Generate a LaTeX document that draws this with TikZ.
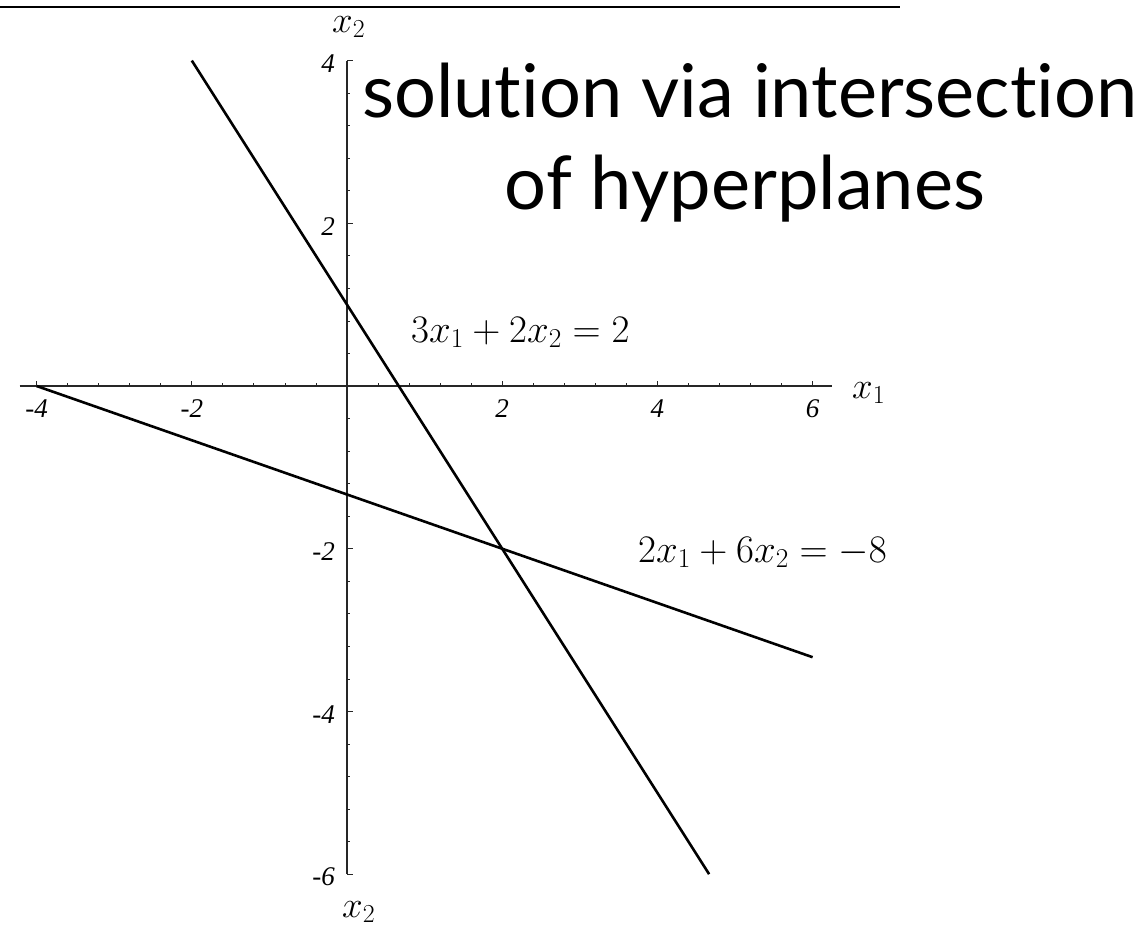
\RequirePackage{fix-cm}
\documentclass[tikz,border=0pt]{standalone}
\usepackage{fontspec}
\newfontfamily\titlefont{Lato}[Ligatures=NoCommon]
\newfontfamily\tickfont{Liberation Serif}
\begin{document}
\begin{tikzpicture}[x=1pt,y=-1pt,
  axisline/.style={line width=1.1pt, draw=black!85},
  tickmark/.style={line width=0.8pt, draw=black!85},
  plotline/.style={line width=2.6pt},
  ticklabel/.style={font=\tickfont\itshape\fontsize{27}{32}\selectfont, inner sep=0pt},
  mathlabel/.style={font=\fontsize{39}{47}\selectfont, inner sep=0pt, anchor=base west},
  axislabel/.style={font=\fontsize{37}{44}\selectfont, inner sep=0pt, anchor=base west},
  titletext/.style={font=\titlefont\fontsize{74}{88}\selectfont, inner sep=0pt}]
\useasboundingbox (0,0) rectangle (1140,926);
\draw[line width=1.5pt] (0,7) -- (900,7);
\begin{scope}[shift={(347,386)}, x=77.6pt, y=81.36pt]
  % axes
  \coordinate (xl) at (-4.22,0);
  \coordinate (xr) at (6.25,0);
  \coordinate (yb) at (0,-6);
  \coordinate (yt) at (0,4);
  \draw[axisline] (xl) -- (xr);
  \draw[axisline] (yb) -- (yt);
  % x ticks
  \foreach \k in {0,...,25} { \draw[tickmark] (-4+0.4*\k,0) -- ++(0,3pt); }
  \foreach \x in {-4,-2,2,4,6} { \draw[tickmark] (\x,0) -- ++(0,5pt); }
  % y ticks
  \foreach \k in {0,...,25} { \draw[tickmark] (0,-6+0.4*\k) -- ++(3pt,0); }
  \foreach \y in {-6,-4,-2,2,4} { \draw[tickmark] (0,\y) -- ++(5.5pt,0); }
  % tick labels
  \foreach \x/\n in {-4/a,-2/b,2/c,4/d,6/e} {
    \node[ticklabel] (tx\n) at (\x,0) [yshift=-23pt] {\x};
  }
  \foreach \y/\n in {-6/a,-4/b,-2/c,2/d,4/e} {
    \node[ticklabel, anchor=east] (ty\n) at (0,\y) [xshift=-12pt, yshift=-3pt] {\y};
  }
  % lines
  \coordinate (p1) at (-2,4);
  \coordinate (p2) at ({14/3},-6);
  \coordinate (q1) at (-4,0);
  \coordinate (q2) at (6,{-10/3});
  \draw[plotline] (p1) -- (p2);
  \draw[plotline] (q1) -- (q2);
\end{scope}
% axis labels
\node[axislabel] (x2top) at (332,32) {$x_2$};
\node[axislabel] (x2bot) at (342,917) {$x_2$};
\node[axislabel] (x1lab) at (852,398) {$x_1$};
% equation labels
\node[mathlabel] (eq1) at (411,342) {$3x_1+2x_2=2$};
\node[mathlabel] (eq2) at (638,562) {$2x_1+6x_2=-8$};
% title
\node[titletext, anchor=base west] (t1) at (362,117) {solution via intersection};
\node[titletext, anchor=base] (t2) at (745,209) {of hyperplanes};
\end{tikzpicture}
\end{document}
